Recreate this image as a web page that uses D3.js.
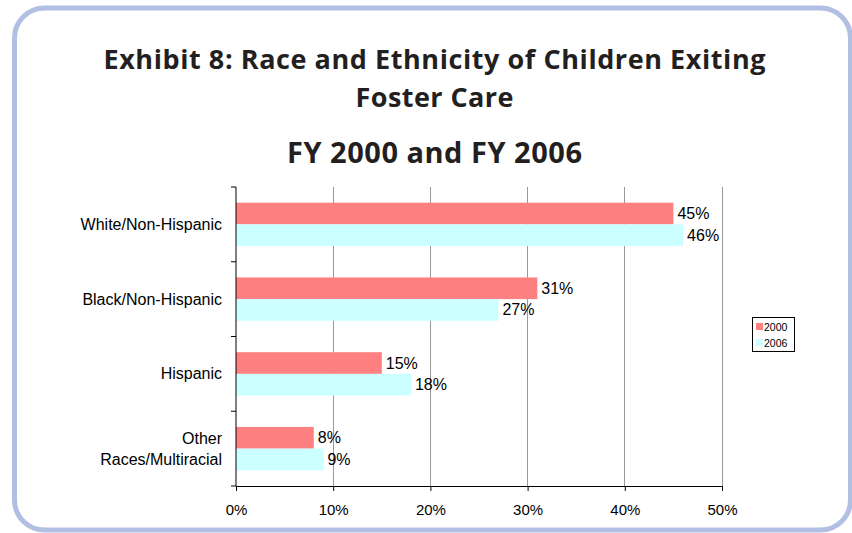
<!DOCTYPE html>
<html><head><meta charset="utf-8">
<script src="https://cdn.jsdelivr.net/npm/d3@7"></script>
<style>body{margin:0;background:#fff}svg{display:block}</style>
</head><body>
<svg id="c" width="852" height="533"></svg>
<script>
const categories = ["White/Non-Hispanic", "Black/Non-Hispanic", "Hispanic", "Other\nRaces/Multiracial"];
const series = ["2000", "2006"];
const values2000 = [45, 31, 15, 8];
const values2006 = [46, 27, 18, 9];
const xTicks = [0, 10, 20, 30, 40, 50];
const colors = ["#FF8080", "#CCFFFF"];

(function () {
const svg = d3.select("#c");
// frame
svg.append("rect").attr("x", 14.5).attr("y", 8).attr("width", 836).attr("height", 522)
  .attr("rx", 30).attr("fill", "none").attr("stroke", "#b1bfe3").attr("stroke-width", 5);

const titleFont = "'Open Sans', Lato, sans-serif";
const titles = [
  ["Exhibit 8: Race and Ethnicity of Children Exiting", 69, 27, 662],
  ["Foster Care", 106.5, 27, 158],
  ["FY 2000 and FY 2006", 163, 29, 295]
];
titles.forEach(([t, yy, sz, w]) => {
  svg.append("text").attr("x", 434.5).attr("y", yy).attr("text-anchor", "middle")
    .attr("font-family", titleFont).attr("font-weight", "bold").attr("font-size", sz).attr("fill", "#231f20")
    .attr("textLength", w).attr("lengthAdjust", "spacing")
    .text(t);
});

const pl = 236, pr = 722, pt = 187, pb = 486;
const x = d3.scaleLinear().domain([0, 50]).range([pl, pr]);
const y = d3.scaleBand().domain(categories).range([pt, pb]).paddingInner(0.42).paddingOuter(0.21);
const ys = d3.scaleBand().domain(series).range([0, y.bandwidth()]);

const font = "'Liberation Sans', Arial, sans-serif";
const fs = 16, fsTick = 15;

// gridlines
svg.append("g").selectAll("line").data(xTicks.slice(1)).join("line")
  .attr("x1", d => x(d)).attr("x2", d => x(d)).attr("y1", pt).attr("y2", pb)
  .attr("stroke", "#999").attr("stroke-width", 1).attr("shape-rendering", "crispEdges");

const data = categories.map((c, i) => ({cat: c, vals: [values2000[i], values2006[i]]}));
const g = svg.append("g");
data.forEach(d => {
  d.vals.forEach((v, j) => {
    g.append("rect").attr("x", x(0)).attr("y", y(d.cat) + ys(series[j]))
      .attr("width", x(v) - x(0)).attr("height", ys.bandwidth()).attr("fill", colors[j]);
    g.append("text").attr("x", x(v) + 4).attr("y", y(d.cat) + ys(series[j]) + ys.bandwidth() / 2 + 5.5)
      .attr("font-family", font).attr("font-size", fs).attr("fill", "#000").text(v + "%");
  });
});

// x axis
const xAxis = svg.append("g").attr("transform", `translate(0,${pb})`)
  .call(d3.axisBottom(x).tickValues(xTicks).tickFormat(d => d + "%").tickSize(5).tickSizeOuter(0));
xAxis.select(".domain").attr("stroke", "#000");
xAxis.selectAll("text").attr("font-family", font).attr("font-size", fsTick).attr("fill", "#000").attr("dy", "1.37em");

// y axis
const yAxisG = svg.append("g").attr("transform", `translate(${pl},0)`);
yAxisG.append("line").attr("x1", 0).attr("x2", 0).attr("y1", pt).attr("y2", pb).attr("stroke", "#000");
const step = (pb - pt) / categories.length;
yAxisG.selectAll(".tk").data(d3.range(categories.length + 1)).join("line")
  .attr("x1", -5).attr("x2", 0).attr("y1", i => pt + i * step).attr("y2", i => pt + i * step).attr("stroke", "#000");
categories.forEach(c => {
  const lines = c.split("\n");
  const cy = y(c) + y.bandwidth() / 2;
  lines.forEach((l, k) => {
    yAxisG.append("text").attr("x", -14).attr("y", cy + 5.5 + (k - (lines.length - 1) / 2) * 21)
      .attr("text-anchor", "end").attr("font-family", font).attr("font-size", fs).attr("fill", "#000").text(l);
  });
});

// legend
const lg = svg.append("g").attr("transform", "translate(752,317)");
lg.append("rect").attr("x", 0.5).attr("y", 0.5).attr("width", 42).attr("height", 34).attr("fill", "#fff").attr("stroke", "#000");
series.forEach((s, i) => {
  lg.append("rect").attr("x", 4).attr("y", 6 + i * 16).attr("width", 7).attr("height", 7).attr("fill", colors[i]);
  lg.append("text").attr("x", 12).attr("y", 13.5 + i * 16).attr("font-family", font).attr("font-size", 10.5).attr("fill", "#000").text(s);
});
})();
</script>
</body></html>
